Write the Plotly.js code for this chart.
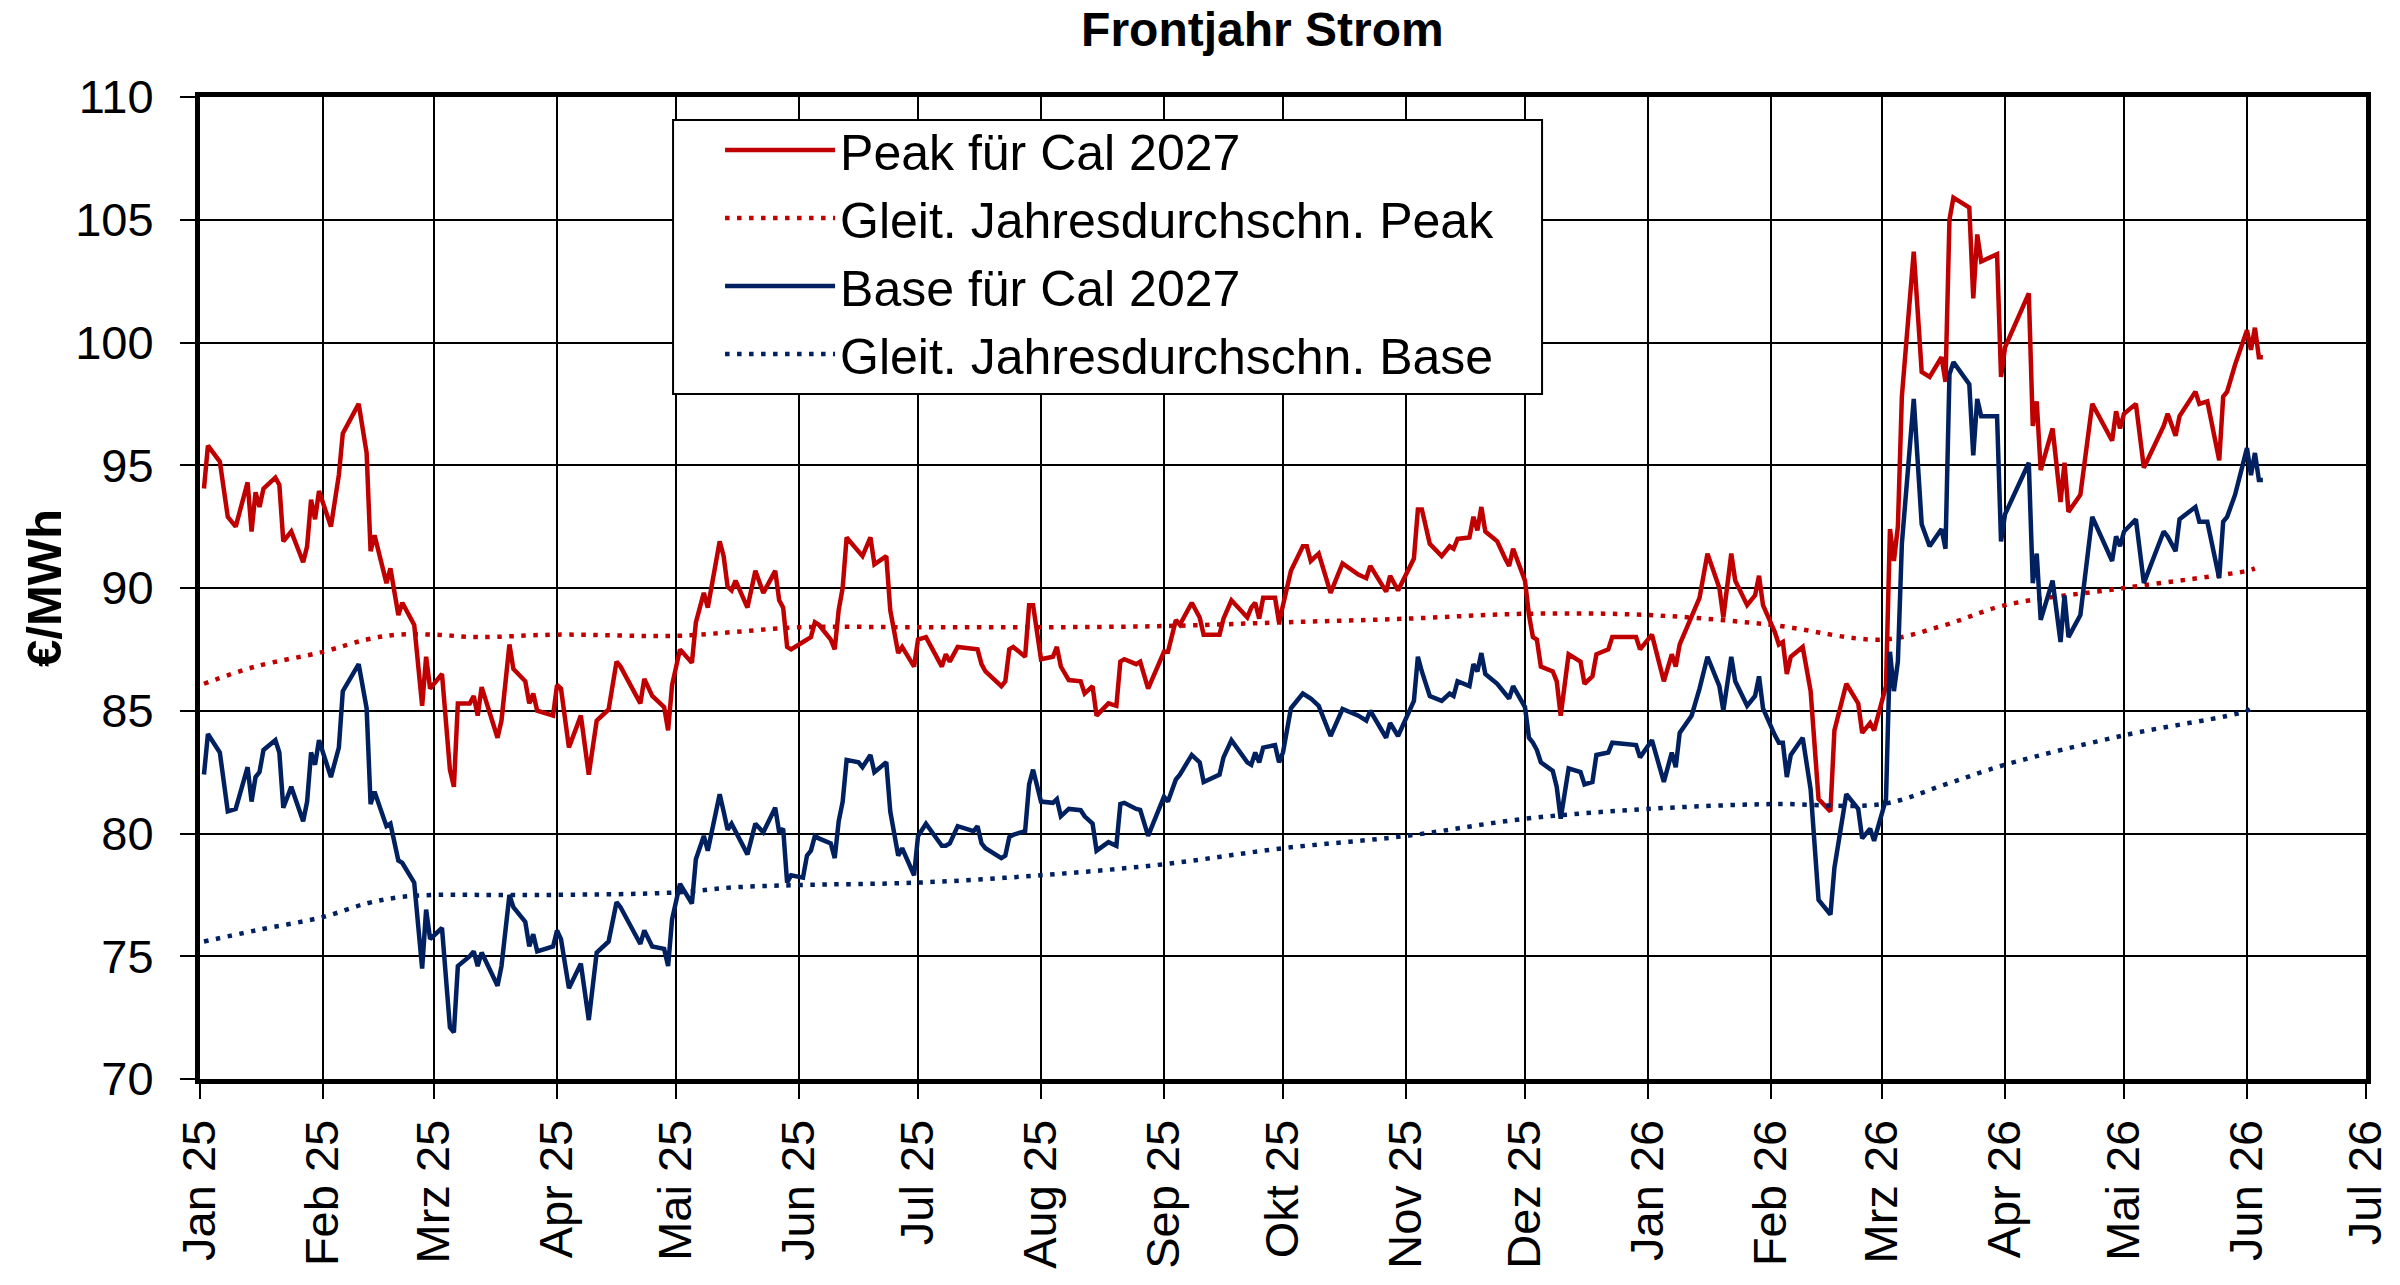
<!DOCTYPE html>
<html>
<head>
<meta charset="utf-8">
<script src="https://cdn.plot.ly/plotly-3.0.1.min.js"></script>
<style>html,body{margin:0;padding:0;background:#fff;}#chart{width:2400px;height:1285px;}</style>
</head>
<body>
<div id="chart"></div>
<script>
const dates = [
'2025-01-02','2025-01-03','2025-01-06','2025-01-08','2025-01-10','2025-01-13','2025-01-14','2025-01-15','2025-01-16','2025-01-17',
'2025-01-20','2025-01-21','2025-01-22','2025-01-24','2025-01-27','2025-01-28','2025-01-29','2025-01-30','2025-01-31','2025-02-03',
'2025-02-05','2025-02-06','2025-02-10','2025-02-12','2025-02-13','2025-02-14','2025-02-17','2025-02-18','2025-02-20','2025-02-21',
'2025-02-24','2025-02-26','2025-02-27','2025-02-28','2025-03-03','2025-03-05','2025-03-06','2025-03-07','2025-03-10','2025-03-11',
'2025-03-12','2025-03-13','2025-03-17','2025-03-18','2025-03-20','2025-03-21','2025-03-24','2025-03-25','2025-03-26','2025-03-27',
'2025-03-31','2025-04-01','2025-04-02','2025-04-04','2025-04-07','2025-04-09','2025-04-11','2025-04-14','2025-04-16','2025-04-17',
'2025-04-22','2025-04-23','2025-04-25','2025-04-28','2025-04-29','2025-04-30','2025-05-02','2025-05-05','2025-05-06','2025-05-08',
'2025-05-09','2025-05-12','2025-05-13','2025-05-14','2025-05-15','2025-05-16','2025-05-19','2025-05-21','2025-05-23','2025-05-26',
'2025-05-27','2025-05-28','2025-05-29','2025-05-30','2025-06-02','2025-06-03','2025-06-04','2025-06-05','2025-06-06','2025-06-09',
'2025-06-10','2025-06-11','2025-06-12','2025-06-13','2025-06-16','2025-06-17','2025-06-19','2025-06-20','2025-06-23','2025-06-24',
'2025-06-26','2025-06-27','2025-06-30','2025-07-01','2025-07-03','2025-07-07','2025-07-08','2025-07-09','2025-07-11','2025-07-15',
'2025-07-16','2025-07-17','2025-07-18','2025-07-22','2025-07-23','2025-07-24','2025-07-25','2025-07-28','2025-07-29','2025-07-30',
'2025-08-01','2025-08-04','2025-08-05','2025-08-06','2025-08-08','2025-08-11','2025-08-12','2025-08-14','2025-08-15','2025-08-18',
'2025-08-20','2025-08-21','2025-08-22','2025-08-25','2025-08-26','2025-08-28','2025-09-01','2025-09-02','2025-09-04','2025-09-05',
'2025-09-08','2025-09-10','2025-09-11','2025-09-15','2025-09-16','2025-09-18','2025-09-22','2025-09-23','2025-09-24','2025-09-25',
'2025-09-26','2025-09-29','2025-09-30','2025-10-01','2025-10-03','2025-10-06','2025-10-07','2025-10-08','2025-10-10','2025-10-13',
'2025-10-16','2025-10-20','2025-10-22','2025-10-23','2025-10-27','2025-10-28','2025-10-30','2025-11-03','2025-11-04','2025-11-05',
'2025-11-07','2025-11-10','2025-11-12','2025-11-13','2025-11-14','2025-11-17','2025-11-18','2025-11-19','2025-11-20','2025-11-21',
'2025-11-24','2025-11-26','2025-11-27','2025-11-28','2025-12-01','2025-12-02','2025-12-03','2025-12-04','2025-12-05','2025-12-08',
'2025-12-09','2025-12-10','2025-12-12','2025-12-15','2025-12-16','2025-12-18','2025-12-19','2025-12-22','2025-12-23','2025-12-29',
'2025-12-30','2026-01-02','2026-01-05','2026-01-07','2026-01-08','2026-01-09','2026-01-12','2026-01-14','2026-01-16','2026-01-19',
'2026-01-20','2026-01-22','2026-01-23','2026-01-26','2026-01-28','2026-01-29','2026-01-30','2026-02-02','2026-02-03','2026-02-04',
'2026-02-05','2026-02-06','2026-02-09','2026-02-11','2026-02-13','2026-02-16','2026-02-17','2026-02-20','2026-02-23','2026-02-24',
'2026-02-26','2026-02-27','2026-03-02','2026-03-03','2026-03-04','2026-03-05','2026-03-06','2026-03-09','2026-03-11','2026-03-13',
'2026-03-16','2026-03-17','2026-03-18','2026-03-19','2026-03-23','2026-03-24','2026-03-25','2026-03-26','2026-03-30','2026-03-31',
'2026-04-01','2026-04-07','2026-04-08','2026-04-09','2026-04-10','2026-04-13','2026-04-15','2026-04-16','2026-04-17','2026-04-20',
'2026-04-23','2026-04-28','2026-04-29','2026-04-30','2026-05-01','2026-05-04','2026-05-06','2026-05-11','2026-05-12','2026-05-14',
'2026-05-15','2026-05-19','2026-05-20','2026-05-22','2026-05-25','2026-05-26','2026-05-27','2026-05-29','2026-06-01','2026-06-02',
'2026-06-03','2026-06-04','2026-06-05'
];

const peak = [
94.05,95.8,95.15,92.9,92.5,94.3,92.3,93.9,93.3,94.05,
94.5,94.2,91.9,92.3,91.05,91.7,93.6,92.8,93.95,92.5,
94.6,96.3,97.5,95.5,91.5,92.15,90.2,90.8,88.9,89.4,
88.5,85.2,87.2,85.9,86.5,82.6,81.9,85.3,85.3,85.6,
84.8,85.96,83.9,84.6,87.7,86.7,86.2,85.3,85.7,85.0,
84.8,86.05,85.9,83.5,84.8,82.4,84.6,85.05,87.0,86.8,
85.3,86.3,85.6,85.15,84.2,86.05,87.5,86.95,88.6,89.8,
89.2,91.9,91.3,90.05,89.9,90.3,89.2,90.7,89.8,90.7,
89.5,89.2,87.6,87.5,87.8,87.9,88.0,88.6,88.5,87.9,
87.5,89.1,90.0,92.06,91.5,91.3,92.06,90.96,91.3,89.1,
87.35,87.6,86.8,87.9,88.0,86.8,87.3,87.0,87.6,87.5,
87.5,86.9,86.6,86.0,86.2,87.5,87.6,87.2,89.3,89.3,
87.1,87.2,87.6,86.8,86.25,86.2,85.7,86.0,84.8,85.3,
85.2,87.0,87.1,86.9,87.0,85.9,87.4,87.4,88.7,88.5,
89.4,88.8,88.1,88.1,88.75,89.5,88.8,89.2,89.4,88.75,
89.6,89.6,88.6,89.3,90.7,91.7,91.7,91.1,91.4,89.8,
91.0,90.55,90.4,90.9,89.85,90.5,89.9,91.2,93.2,93.2,
91.8,91.3,91.7,91.6,92.0,92.06,92.9,92.35,93.3,92.3,
91.9,91.2,90.9,91.6,90.3,88.9,88.0,87.9,86.8,86.6,
86.2,84.8,87.3,87.0,86.1,86.4,87.3,87.5,88.0,88.0,
87.5,88.1,86.2,87.3,86.8,87.7,88.8,89.6,91.4,90.0,
88.8,91.4,90.3,89.3,89.7,90.5,89.3,88.2,87.7,87.8,
86.5,87.2,87.6,85.8,81.4,80.9,84.2,86.1,85.3,84.1,
84.5,84.2,86.0,92.4,91.1,92.5,97.8,103.7,98.8,98.6,
99.4,98.4,105.0,105.9,105.5,101.8,104.4,103.3,103.6,98.6,
99.8,102.0,96.6,97.6,94.8,96.5,93.5,95.1,93.1,93.8,
97.5,96.0,97.2,96.5,97.1,97.5,94.9,96.6,97.1,96.2,
97.0,98.0,97.5,97.6,95.2,97.8,98.0,99.1,100.5,99.7,
100.6,99.4,99.4
];

const base = [
82.4,84.05,83.3,80.9,81.0,82.7,81.3,82.3,82.5,83.4,
83.8,83.3,81.05,81.9,80.5,81.3,83.3,82.8,83.8,82.3,
83.5,85.8,86.9,85.1,81.2,81.7,80.3,80.4,78.9,78.8,
78.0,74.5,76.9,75.7,76.15,72.1,71.9,74.6,75.0,75.2,
74.6,75.15,73.8,74.6,77.5,77.0,76.4,75.4,75.9,75.2,
75.4,76.05,75.7,73.7,74.7,72.4,75.15,75.6,77.2,77.0,
75.5,76.05,75.4,75.3,74.6,76.5,77.95,77.15,78.95,79.9,
79.3,81.6,80.9,80.15,80.4,80.1,79.15,80.4,80.05,81.05,
80.05,80.2,78.0,78.3,78.2,79.1,79.3,79.9,79.8,79.6,
79.0,80.5,81.3,83.0,82.9,82.7,83.2,82.5,82.9,80.9,
79.1,79.4,78.3,79.9,80.4,79.5,79.5,79.6,80.3,80.1,
80.3,79.6,79.4,79.0,79.1,79.85,79.95,80.1,82.0,82.6,
81.3,81.25,81.4,80.7,81.0,80.95,80.7,80.4,79.3,79.65,
79.5,81.2,81.25,81.0,80.96,79.9,81.5,81.3,82.2,82.4,
83.2,82.9,82.1,82.4,83.1,83.8,82.9,82.8,83.3,82.9,
83.5,83.6,82.9,83.3,85.1,85.7,85.6,85.5,85.2,83.97,
85.07,84.8,84.6,85.0,83.9,84.5,83.97,85.4,87.2,86.6,
85.6,85.4,85.7,85.6,86.2,86.0,86.9,86.6,87.35,86.5,
86.1,85.7,85.5,86.0,85.15,83.9,83.7,83.4,82.9,82.55,
81.9,80.6,82.65,82.5,82.0,82.1,83.2,83.3,83.7,83.6,
83.1,83.8,82.1,83.3,82.7,84.1,84.8,85.9,87.2,86.0,
85.0,87.2,86.2,85.2,85.6,86.4,85.1,84.0,83.7,83.7,
82.3,83.2,83.9,81.8,77.3,76.7,78.6,81.6,81.0,79.8,
80.2,79.7,81.4,87.4,85.8,87.0,91.8,97.7,92.6,91.7,
92.4,91.6,98.7,99.2,98.3,95.4,97.7,97.0,97.0,91.9,
93.0,95.1,90.2,91.4,88.7,90.3,87.8,89.7,88.0,88.9,
92.9,91.1,92.1,91.7,92.3,92.8,90.2,92.3,92.1,91.5,
92.8,93.3,92.7,92.7,90.4,92.7,92.9,93.8,95.7,94.6,
95.5,94.4,94.4
];

const avgDates = [
'2025-01-02','2025-01-15','2025-02-01','2025-02-12','2025-02-20','2025-03-01','2025-03-12','2025-04-01',
'2025-05-01','2025-05-15','2025-06-01','2025-07-01','2025-08-01','2025-09-01','2025-10-01','2025-11-01',
'2025-12-01','2026-01-01','2026-02-01','2026-03-01','2026-03-17','2026-04-01','2026-05-01','2026-06-01','2026-06-03'
];
const peakAvg = [
86.1,86.8,87.4,87.9,88.1,88.1,88.0,88.1,
88.05,88.2,88.4,88.4,88.4,88.45,88.6,88.75,
88.95,88.9,88.5,87.9,88.5,89.3,90.0,90.7,90.8
];
const baseAvg = [
75.6,76.05,76.6,77.15,77.4,77.5,77.5,77.5,
77.6,77.8,77.9,78.0,78.3,78.75,79.4,79.9,
80.6,81.0,81.2,81.2,82.0,82.8,84.0,85.0,85.2
];

const tickDates = ['2025-01-01','2025-02-01','2025-03-01','2025-04-01','2025-05-01','2025-06-01','2025-07-01',
'2025-08-01','2025-09-01','2025-10-01','2025-11-01','2025-12-01','2026-01-01','2026-02-01','2026-03-01',
'2026-04-01','2026-05-01','2026-06-01','2026-07-01'];
const tickLabels = ['Jan 25','Feb 25','Mrz 25','Apr 25','Mai 25','Jun 25','Jul 25','Aug 25','Sep 25','Okt 25',
'Nov 25','Dez 25','Jan 26','Feb 26','Mrz 26','Apr 26','Mai 26','Jun 26','Jul 26'];

const seriesNames = ['Peak für Cal 2027','Gleit. Jahresdurchschn. Peak','Base für Cal 2027','Gleit. Jahresdurchschn. Base'];

const RED = '#C00000', BLUE = '#002060';
const FONT = 'Liberation Sans, Arial, sans-serif';

const traces = [
  {x: dates, y: peak, name: seriesNames[0], type: 'scatter', mode: 'lines', line: {color: RED, width: 4.5}},
  {x: avgDates, y: peakAvg, name: seriesNames[1], type: 'scatter', mode: 'lines', line: {color: RED, width: 4.5, dash: '4.5px,7.5px', shape: 'spline'}},
  {x: dates, y: base, name: seriesNames[2], type: 'scatter', mode: 'lines', line: {color: BLUE, width: 4.5}},
  {x: avgDates, y: baseAvg, name: seriesNames[3], type: 'scatter', mode: 'lines', line: {color: BLUE, width: 4.5, dash: '4.5px,7.5px', shape: 'spline'}}
];

const axisCommon = {
  showgrid: true, gridcolor: '#000', gridwidth: 2,
  showline: true, linecolor: '#000', linewidth: 5, mirror: true,
  ticks: 'outside', ticklen: 15, tickwidth: 2, tickcolor: '#000',
  tickfont: {family: FONT, size: 47, color: '#000'},
  zeroline: false, automargin: false
};

const layout = {
  width: 2400, height: 1285,
  paper_bgcolor: '#fff', plot_bgcolor: '#fff',
  margin: {l: 200, r: 34, t: 97, b: 206},
  font: {family: FONT, color: '#000'},
  title: {text: 'Frontjahr Strom', font: {family: FONT, size: 48, color: '#000', weight: 700},
          x: 0.526, xref: 'container', xanchor: 'center', y: 0.977, yref: 'container', yanchor: 'middle'},
  xaxis: Object.assign({}, axisCommon, {
    type: 'date', range: ['2025-01-01', '2026-07-01'],
    tickmode: 'array', tickvals: tickDates, ticktext: tickLabels, tickangle: -90,
    ticklabelstandoff: 2
  }),
  yaxis: Object.assign({}, axisCommon, {
    range: [70, 110], tickmode: 'linear', tick0: 70, dtick: 5,
    ticklabelposition: 'outside', ticklabelstandoff: 17,
    title: {text: '€/MWh', font: {family: FONT, size: 49, color: '#000', weight: 700}, standoff: 0}
  }),
  shapes: [{
    type: 'rect', xref: 'paper', yref: 'paper', x0: 0.2184, x1: 0.6196, y0: 0.6976, y1: 0.9766,
    fillcolor: '#fff', line: {color: '#000', width: 2}, layer: 'above'
  }],
  showlegend: true,
  legend: {
    x: 0.2401, y: 0.9857, xref: 'paper', yref: 'paper', xanchor: 'left', yanchor: 'top',
    bgcolor: 'rgba(0,0,0,0)', borderwidth: 0,
    font: {family: FONT, size: 50, color: '#000'},
    itemwidth: 110, tracegroupgap: 0
  }
};

Plotly.newPlot('chart', traces, layout, {staticPlot: true, displayModeBar: false});
</script>
</body>
</html>
